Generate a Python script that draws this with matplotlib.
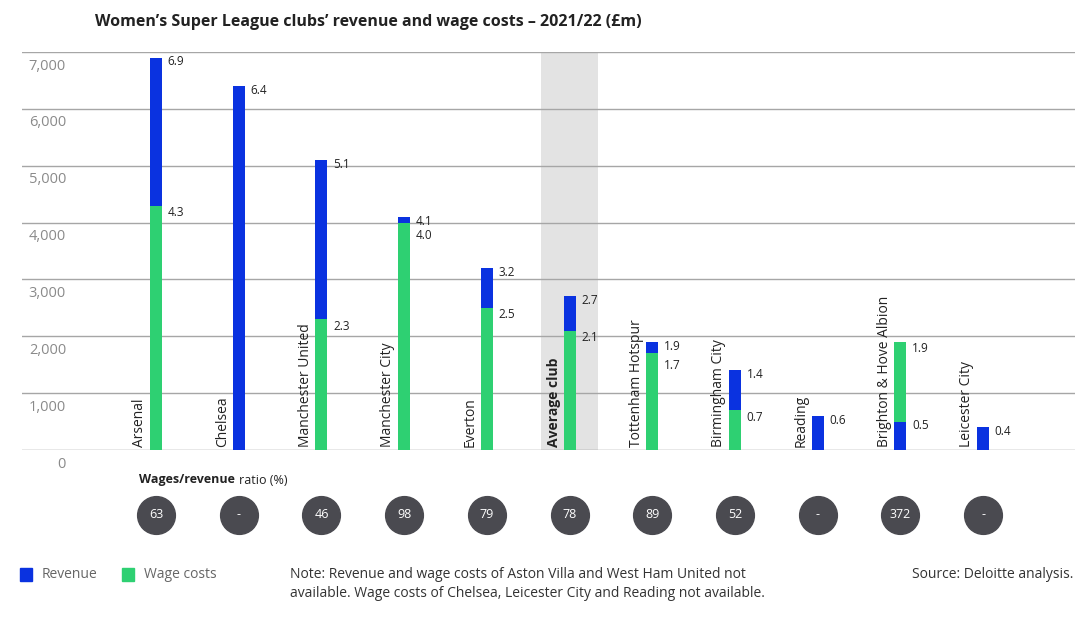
import numpy as np
import matplotlib
matplotlib.use("Agg")
import matplotlib.pyplot as plt
import matplotlib.transforms as mtransforms
from matplotlib.patches import Rectangle

plt.rcParams['font.family'] = ['Open Sans', 'DejaVu Sans']

# données (£m)
clubs = ["Arsenal", "Chelsea", "Manchester United", "Manchester City", "Everton",
         "Average club", "Tottenham Hotspur", "Birmingham City", "Reading",
         "Brighton & Hove Albion", "Leicester City"]
revenue = [6.9, 6.4, 5.1, 4.1, 3.2, 2.7, 1.9, 1.4, 0.6, 0.5, 0.4]
wages = [4.3, None, 2.3, 4.0, 2.5, 2.1, 1.7, 0.7, None, 1.9, None]
ratio = ["63", "-", "46", "98", "79", "78", "89", "52", "-", "372", "-"]
yticks = [0, 1000, 2000, 3000, 4000, 5000, 6000, 7000]

BLUE = "#0a32e0"
GREEN = "#2ed072"
GRID = "#a6a6a6"
DARK = "#4a4a50"

fig = plt.figure(figsize=(10.8, 6.43), dpi=100)
ax = fig.add_axes([22/1080, 193/643, 1053/1080, 398/643])

x = np.arange(len(clubs))
w = 0.145

# bande grise du club moyen
i_avg = clubs.index("Average club")
ax.axvspan(i_avg - 0.345, i_avg + 0.345, color="#e3e3e3", zorder=0, lw=0)

for i in range(len(clubs)):
    r = revenue[i] * 1000
    wg = wages[i] * 1000 if wages[i] is not None else None
    # la plus petite barre passe devant
    zr, zw = 3, 2
    if wg is not None and wg > r:
        zr, zw = 3, 2
    elif wg is not None:
        zr, zw = 2, 3
    ax.bar(x[i], r, width=w, color=BLUE, zorder=zr)
    if wg is not None:
        ax.bar(x[i], wg, width=w, color=GREEN, zorder=zw)

    # étiquettes de valeur
    ax.annotate(f"{revenue[i]:.1f}", (x[i] + w/2, r), xytext=(4, -3),
                textcoords="offset points", va="center", ha="left",
                fontsize=8.5, color="#222222", zorder=5)
    if wg is not None:
        off_w = -5
        if abs(wg - r) < 300:
            off_w = -9
        ax.annotate(f"{wages[i]:.1f}", (x[i] + w/2, wg), xytext=(4, off_w),
                    textcoords="offset points", va="center", ha="left",
                    fontsize=8.5, color="#222222", zorder=5)

    # nom du club
    ax.annotate(clubs[i], (x[i] - w/2, 0), xytext=(-2, 2),
                textcoords="offset points", rotation=90, ha="right", va="bottom",
                fontsize=10, color="#222222",
                fontweight="bold" if clubs[i] == "Average club" else "normal",
                zorder=5)

ax.set_xlim(-1.62, 11.11)
ax.set_ylim(0, 7000)

# grille
for yv in yticks:
    ax.axhline(yv, color=GRID if yv > 0 else "#8a8a8a", lw=1, zorder=1)

ax.set_yticks(yticks)
ax.set_yticklabels([f"{v:,}" for v in yticks])
ax.tick_params(axis="y", length=0, pad=0, labelsize=10.5, labelcolor="#8a8a8a")
for lab in ax.get_yticklabels():
    lab.set_horizontalalignment("right")
    lab.set_transform(lab.get_transform() + mtransforms.ScaledTranslation(0.44, -0.12, fig.dpi_scale_trans))
ax.set_xticks([])
for s in ax.spines.values():
    s.set_visible(False)

# ratio salaires / revenus
trans = mtransforms.blended_transform_factory(ax.transData, ax.transAxes)
ax.scatter(x, [-0.163] * len(x), s=740, color=DARK, transform=trans, clip_on=False, zorder=5)
for i in range(len(x)):
    ax.text(x[i], -0.163, ratio[i], transform=trans, ha="center", va="center",
            color="white", fontsize=9, zorder=6)

t1 = fig.text(139/1080, 1 - 480/643, "Wages/revenue", fontsize=9, fontweight="bold",
              color="#222222", va="center", ha="left")
fig.text(0, 0, "")
ax.annotate("ratio (%)", xy=(1, 0.5), xycoords=t1, xytext=(3, 0),
            textcoords="offset points", fontsize=9, color="#222222",
            va="center", ha="left", annotation_clip=False)

# titre
fig.text(95/1080, 1 - 22/643,
         "Women\u2019s Super League clubs\u2019 revenue and wage costs \u2013 2021/22 (\u00a3m)",
         fontsize=11.5, fontweight="bold", color="#222222", va="center", ha="left")

# légende
fig.patches.append(Rectangle((20/1080, 1 - 581/643), 12/1080, 13/643, color=BLUE,
                             transform=fig.transFigure, figure=fig))
fig.text(42/1080, 1 - 575/643, "Revenue", fontsize=10, color="#666666", va="center")
fig.patches.append(Rectangle((122/1080, 1 - 581/643), 12/1080, 13/643, color=GREEN,
                             transform=fig.transFigure, figure=fig))
fig.text(144/1080, 1 - 575/643, "Wage costs", fontsize=10, color="#666666", va="center")

fig.text(290/1080, 1 - 584/643,
         "Note: Revenue and wage costs of Aston Villa and West Ham United not\n"
         "available. Wage costs of Chelsea, Leicester City and Reading not available.",
         fontsize=10, color="#333333", va="center", ha="left", linespacing=1.35)
fig.text(1073/1080, 1 - 575/643, "Source: Deloitte analysis.", fontsize=10,
         color="#333333", va="center", ha="right")

fig.savefig("out.png", dpi=100)
